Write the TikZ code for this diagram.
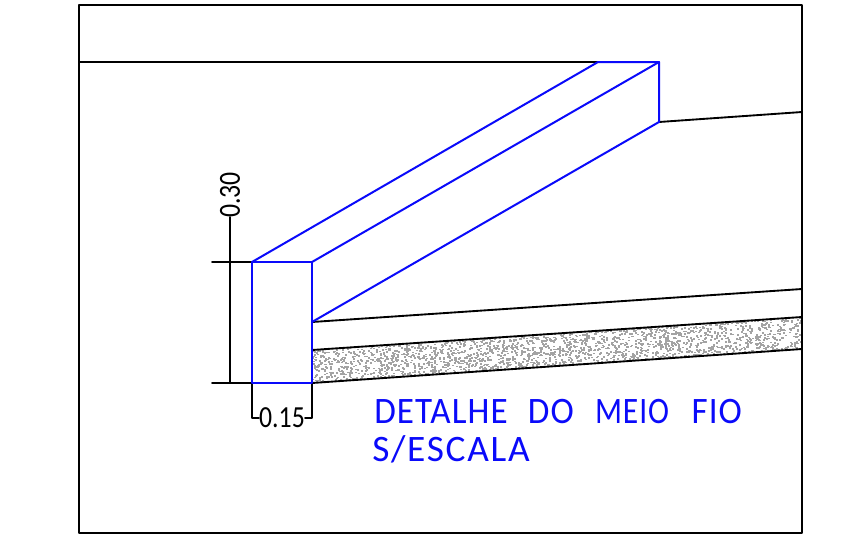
\documentclass[tikz,border=0pt]{standalone}
\usepackage{fontspec}
\setmainfont{Carlito}
\definecolor{cadblue}{RGB}{10,10,250}
\tikzset{
  kline/.style={draw=black,line width=1.4pt,line cap=round,line join=round},
  bline/.style={draw=cadblue,line width=1.5pt,line cap=round,line join=round},
  dimtext/.style={inner sep=0pt,text=black,font=\fontsize{23}{23}\selectfont,xscale=.84},
  title/.style={inner sep=0pt,anchor=base west,text=cadblue,font=\fontsize{28}{28}\selectfont}
}
\begin{document}
\begin{tikzpicture}[x=.75pt,y=-.75pt]
\useasboundingbox (0,0) rectangle (860,540);
\fill[white] (0,0) rectangle (860,540);
\coordinate (TL) at (79,5); \coordinate (BR) at (802,533);
\coordinate (a) at (252,262); \coordinate (b) at (312,262);
\coordinate (c) at (312,383); \coordinate (d) at (252,383);
\coordinate (e) at (312,322); \coordinate (f) at (312,350);
\coordinate (g) at (598,62); \coordinate (h) at (659,62);
\coordinate (i) at (659,122); \coordinate (j) at (79,62);
\coordinate (k) at (802,112); \coordinate (l) at (802,289);
\coordinate (m) at (802,317); \coordinate (n) at (802,349);
\coordinate (p) at (212,262); \coordinate (q) at (212,383);
\coordinate (r) at (230,262); \coordinate (s) at (230,383);
\coordinate (t) at (230,217);
\coordinate (u) at (252,418); \coordinate (v) at (312,418);
\coordinate (w) at (259,418); \coordinate (y) at (305,418);
% stippled band
\begin{scope}
\clip (f) -- (m) -- (n) -- (c) -- cycle;
\pgfmathsetseed{7}
\foreach \i in {1,...,2200}{
  \pgfmathsetmacro{\xx}{312+490*rnd}
  \pgfmathsetmacro{\yy}{383-(\xx-312)*0.0694-33*rnd}
  \fill[black!36] (\xx,\yy) rectangle ++(2,1.6);
}
\end{scope}
% black lines
\draw[kline] (TL) rectangle (BR);
\draw[kline] (j) -- (g);
\draw[kline] (i) -- (k);
\draw[kline] (e) -- (l);
\draw[kline] (f) -- (m);
\draw[kline] (c) -- (n);
\draw[kline] (p) -- (a);
\draw[kline] (q) -- (d);
\draw[kline] (t) -- (s);
\draw[kline] (d) -- (u) -- (w);
\draw[kline] (c) -- (v) -- (y);
% blue lines
\draw[bline] (a) rectangle (c);
\draw[bline] (a) -- (g) -- (h) -- (i);
\draw[bline] (b) -- (h);
\draw[bline] (e) -- (i);
% labels
\node[dimtext] (dimw) at (282,418) {0.15};
\node[rotate=90,dimtext] (dimh) at (230,195) {0.30};
\node[title,xscale=.94] (t1) at (374,423) {\addfontfeature{LetterSpace=3}DETALHE\hspace{.58em}DO\hspace{.6em}\scalebox{.9}[1]{MEIO}\hspace{.64em}FIO};
\node[title] (t2) at (372,461) {\addfontfeature{LetterSpace=4.6}S/ESCALA};
\end{tikzpicture}
\end{document}
